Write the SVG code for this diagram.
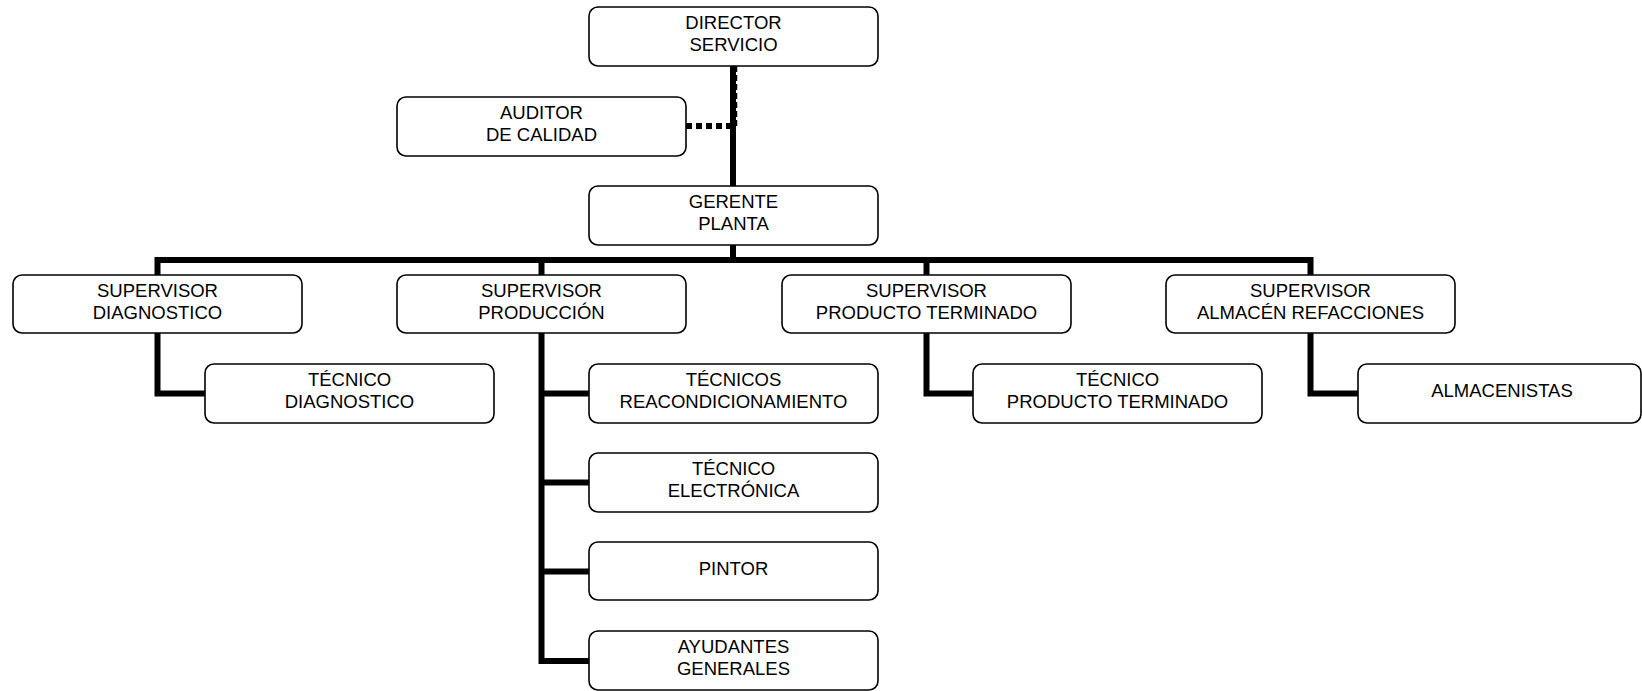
<svg xmlns="http://www.w3.org/2000/svg" width="1642" height="691" viewBox="0 0 1642 691">
<style>
.box{fill:#fff;stroke:#000;stroke-width:1.6}
.t{font-family:"Liberation Sans",Arial,sans-serif;font-size:18.5px;fill:#000;text-anchor:middle}
.c{fill:none;stroke:#000;stroke-width:6;stroke-linejoin:miter;stroke-linecap:butt}
.d{fill:none;stroke:#000;stroke-width:6;stroke-dasharray:6 4}
.dv{fill:none;stroke:#000;stroke-width:2.5;stroke-dasharray:6 3}
</style>
<rect width="1642" height="691" fill="#fff"/>
<g id="connectors">
<path class="dv" d="M736 66V126"/>
<path class="c" d="M733 66V186"/>
<path class="d" d="M686 126H731"/>
<path class="c" d="M733 245V260"/>
<path class="c" d="M157.5 275V260H1310.5V275"/>
<path class="c" d="M541.5 260V275"/>
<path class="c" d="M926.5 260V275"/>
<path class="c" d="M157.5 333V393.5H205"/>
<path class="c" d="M541.5 333V661H589"/>
<path class="c" d="M541.5 393.5H589"/>
<path class="c" d="M541.5 482.5H589"/>
<path class="c" d="M541.5 571.5H589"/>
<path class="c" d="M926.5 333V393.5H973"/>
<path class="c" d="M1310.5 333V393.5H1358"/>
</g>
<g id="director"><rect class="box" x="589" y="7" width="289" height="59" rx="9"/><text class="t" x="733.5" y="28.5">DIRECTOR</text><text class="t" x="733.5" y="50.5">SERVICIO</text></g>
<g id="auditor"><rect class="box" x="397" y="97" width="289" height="59" rx="9"/><text class="t" x="541.5" y="118.5">AUDITOR</text><text class="t" x="541.5" y="140.5">DE CALIDAD</text></g>
<g id="gerente"><rect class="box" x="589" y="186" width="289" height="59" rx="9"/><text class="t" x="733.5" y="207.5">GERENTE</text><text class="t" x="733.5" y="229.5">PLANTA</text></g>
<g id="sup-diag"><rect class="box" x="13" y="275" width="289" height="58" rx="9"/><text class="t" x="157.5" y="296.5">SUPERVISOR</text><text class="t" x="157.5" y="318.5">DIAGNOSTICO</text></g>
<g id="sup-prod"><rect class="box" x="397" y="275" width="289" height="58" rx="9"/><text class="t" x="541.5" y="296.5">SUPERVISOR</text><text class="t" x="541.5" y="318.5">PRODUCCIÓN</text></g>
<g id="sup-pt"><rect class="box" x="782" y="275" width="289" height="58" rx="9"/><text class="t" x="926.5" y="296.5">SUPERVISOR</text><text class="t" x="926.5" y="318.5">PRODUCTO TERMINADO</text></g>
<g id="sup-alm"><rect class="box" x="1166" y="275" width="289" height="58" rx="9"/><text class="t" x="1310.5" y="296.5">SUPERVISOR</text><text class="t" x="1310.5" y="318.5">ALMACÉN REFACCIONES</text></g>
<g id="tec-diag"><rect class="box" x="205" y="364" width="289" height="59" rx="9"/><text class="t" x="349.5" y="385.5">TÉCNICO</text><text class="t" x="349.5" y="407.5">DIAGNOSTICO</text></g>
<g id="tec-reac"><rect class="box" x="589" y="364" width="289" height="59" rx="9"/><text class="t" x="733.5" y="385.5">TÉCNICOS</text><text class="t" x="733.5" y="407.5">REACONDICIONAMIENTO</text></g>
<g id="tec-elec"><rect class="box" x="589" y="453" width="289" height="59" rx="9"/><text class="t" x="733.5" y="474.5">TÉCNICO</text><text class="t" x="733.5" y="496.5">ELECTRÓNICA</text></g>
<g id="pintor"><rect class="box" x="589" y="542" width="289" height="58" rx="9"/><text class="t" x="733.5" y="575">PINTOR</text></g>
<g id="ayudantes"><rect class="box" x="589" y="631" width="289" height="59" rx="9"/><text class="t" x="733.5" y="652.5">AYUDANTES</text><text class="t" x="733.5" y="674.5">GENERALES</text></g>
<g id="tec-pt"><rect class="box" x="973" y="364" width="289" height="59" rx="9"/><text class="t" x="1117.5" y="385.5">TÉCNICO</text><text class="t" x="1117.5" y="407.5">PRODUCTO TERMINADO</text></g>
<g id="almacenistas"><rect class="box" x="1358" y="364" width="283" height="59" rx="9"/><text class="t" x="1502" y="396.5">ALMACENISTAS</text></g>
</svg>
